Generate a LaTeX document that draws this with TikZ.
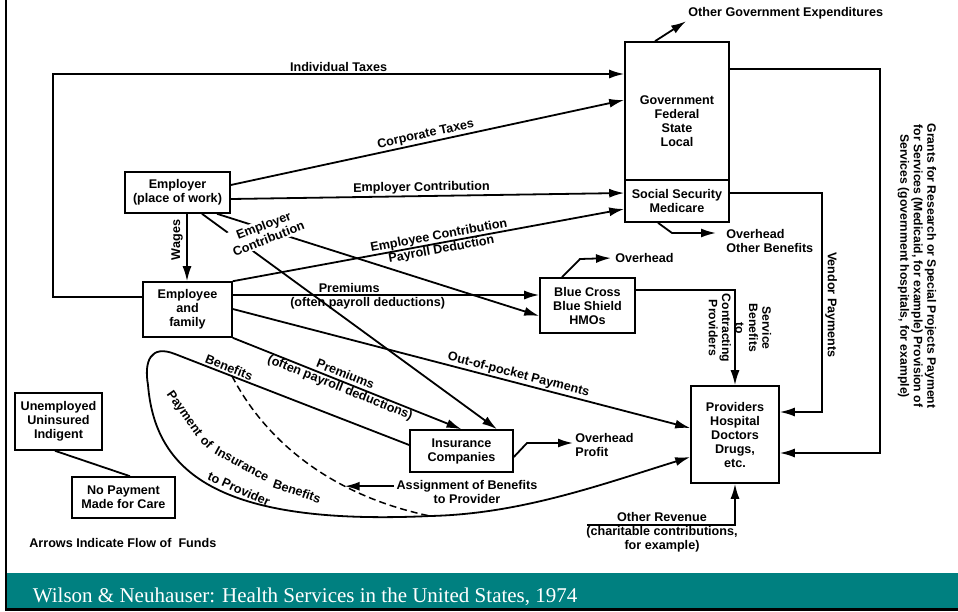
\documentclass[tikz,border=0pt]{standalone}
\usepackage{fontspec}
\setmainfont{Liberation Sans}
\newfontfamily\footfont{Liberation Serif}
\usetikzlibrary{arrows.meta}
\definecolor{bandteal}{RGB}{0,128,128}
\newcommand{\lblfont}{\fontsize{12.6}{14}\selectfont\bfseries}
\newcommand{\tightfont}{\fontsize{12.2}{13.4}\selectfont\bfseries}

\begin{document}
\begin{tikzpicture}[x=1pt,y=-1pt,line width=1.8pt,
  >={Latex[length=15pt,width=9pt]},
  box/.style={draw,line width=1.6pt,align=center,inner sep=1pt,font=\lblfont},
  lbl/.style={font=\lblfont,align=center,inner sep=1.5pt}]
\useasboundingbox (0,0) rectangle (958,611);

% boxes
\node[box,minimum width=105,minimum height=41] (er) at (177.5,192.5) {Employer\\(place of work)};
\node[box,minimum width=89,minimum height=55] (ee) at (187.5,309.5) {Employee\\and\\family};
\node[box,minimum width=104,minimum height=138] (gov) at (677,111) {};
\node[lbl] (govt) at (677,121) {Government\\Federal\\State\\Local};
\node[box,minimum width=104,minimum height=42] (ss) at (677,201) {Social Security\\Medicare};
\node[box,minimum width=95,minimum height=55] (bc) at (587.5,305.5) {Blue Cross\\Blue Shield\\HMOs};
\node[box,minimum width=103,minimum height=42] (ins) at (461.5,451) {Insurance\\Companies};
\node[box,minimum width=88,minimum height=97] (prov) at (735,434.5) {Providers\\Hospital\\Doctors\\Drugs,\\etc.};
\node[box,minimum width=87,minimum height=57] (unemp) at (58.5,421.5) {Unemployed\\Uninsured\\Indigent};
\node[box,minimum width=103,minimum height=41] (nopay) at (123.5,497.5) {No Payment\\Made for Care};

% free labels
\node[lbl,anchor=west] (oge) at (686,13) {Other Government Expenditures};
\node[lbl,anchor=west,align=left] (ovss) at (724,240.5) {Overhead\\Other Benefits};
\node[lbl,anchor=west] (ovbc) at (613,258) {Overhead};
\node[lbl,anchor=west,align=left] (ovin) at (573,445) {Overhead\\Profit};
\node[lbl,rotate=90] (wage) at (177,240) {Wages};
\node[lbl,rotate=-90] (vend) at (831,305) {Vendor Payments};
\node[lbl,rotate=-90,font=\tightfont] (svc) at (740,328) {Service\\Benefits\\to\\Contracting\\Providers};
\node[lbl,rotate=-90,font=\tightfont] (grant) at (917,266) {Grants for Research or Special Projects Payment\\for Services (Medicaid, for example) Provision of\\Services (government hospitals, for example)};
\node[lbl] (rev) at (662,532) {Other Revenue\\(charitable contributions,\\for example)};
\node[lbl] (asg) at (467,492) {Assignment of Benefits\\to Provider};
\node[lbl,anchor=west] (note) at (27,543) {Arrows Indicate Flow of\ \ Funds};
% words following the loop
\node[lbl,inner sep=0pt,rotate=-55] (pay1) at (184,414) {Payment};
\node[lbl,inner sep=0pt,rotate=-44] (pay2) at (207,442) {of};
\node[lbl,inner sep=0pt,rotate=-29] (pay3) at (242,464) {Insurance};
\node[lbl,inner sep=0pt,rotate=-19] (pay4) at (297,491) {Benefits};
\node[lbl,inner sep=0pt,rotate=-24] (pay5) at (239,489) {to Provider};

% taxes and contributions
\draw[->] (ee.west |- 0,297) -| (53,74) -- node[lbl,above]{Individual Taxes} (gov.west |- 0,74);
\draw[->] (er.east |- 0,185) -- node[lbl,above,sloped]{Corporate Taxes} (gov.west |- 0,100);
\draw[->] (er.east |- 0,199) -- node[lbl,above,sloped,pos=0.485]{Employer Contribution} (ss.west |- 0,193);
\draw[->] (ee.north east) -- node[lbl,sloped,pos=0.53]{Employee Contribution\\Payroll Deduction} (ss.west |- 0,209);

% household payments
\draw[->] (er.south -| 187,0) -- (ee.north -| 187,0);
\draw[->] (ee.east |- 0,295) -- node[lbl,above,pos=0.38]{Premiums} node[lbl,below,pos=0.44]{(often payroll deductions)} (bc.west |- 0,295);
\draw[->] (ee.east |- 0,309) -- node[lbl,above,sloped,pos=0.62]{Out-of-pocket Payments} (prov.west |- 0,428);
\draw[->] (ee.south east) -- node[lbl,sloped,pos=0.48]{Premiums\\(often payroll deductions)} (ins.north);
\draw[->] (er.south -| 217,0) -- (bc.west |- 0,316);
\draw[->] (er.south -| 202,0) -- (ins.north -| 497,0);
\node[lbl,fill=white,rotate=21] (ercon) at (266,232) {Employer\\Contribution};

% government and social security
\draw[->] (gov.north -| 655,0) -- (oge.south west);
\draw[->] (gov.east |- 0,69) -| (880,453) -- (prov.east |- 0,453);
\draw[->] (ss.east |- 0,193) -| (822,412) -- (prov.east |- 0,412);
\draw[->,shorten >=8pt] (ss.south -| 658,0) -- (672,233) -- (ovss.west |- 0,233);

% blue cross and insurance
\draw[->,shorten >=2pt] (bc.north -| 562,0) -- (580,259) -- (ovbc.west);
\draw[->] (bc.east |- 0,290) -| (prov.north);
\draw[->] (ins.east |- 0,457) -- (527,443) -- (ovin.west |- 0,443);
\draw[->] (ins.west |- 0,445) -- node[lbl,above,sloped,pos=0.78]{Benefits} (175,354)
  .. controls (150,344) and (144,362) .. (148,385)
  .. controls (155,470) and (215,526) .. (430,516)
  .. controls (520,514) and (600,485) .. (prov.west |- 0,457);
\coordinate (dshA) at (232,376);
\coordinate (dshB) at (430,516);
\draw[dash pattern=on 7pt off 4pt,line width=1.5pt] (dshA) .. controls (265,440) and (330,495) .. coordinate[pos=0.68] (dshM) (dshB);
\draw[->] (asg.west |- dshM) -- (dshM);

% other revenue and uninsured
\coordinate (revl) at (587,525);
\draw[->] (revl) -| (prov.south);
\draw (unemp.south -| 55,0) -- (nopay.north -| 130,0);

% footer band
\fill[bandteal] (7,573) rectangle (958,608);
\node[anchor=base west,font=\footfont\fontsize{21}{24}\selectfont,text=white,inner sep=0] (foot) at (32,602) {Wilson \& Neuhauser: Health Services in the United States, 1974};
\draw[line width=2.5pt] (6,0) -- (6,611);
\draw[line width=3pt] (5,609.5) -- (958,609.5);
\end{tikzpicture}
\end{document}
